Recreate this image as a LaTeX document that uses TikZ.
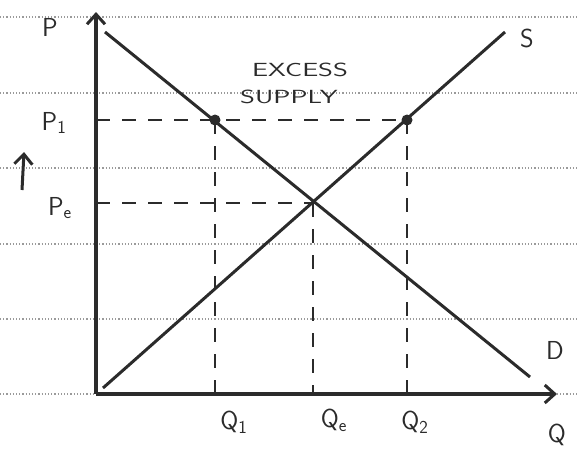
\documentclass[tikz,border=0pt]{standalone}
\usetikzlibrary{arrows.meta, positioning, calc}
\definecolor{pen}{HTML}{2B2B2B}
\definecolor{ruleline}{HTML}{9A9A9A}

\begin{document}
\begin{tikzpicture}[
    x=1pt, y=-1pt,
    axis/.style={line width=4pt, color=pen, -{Straight Barb[length=10pt, width=18pt, line width=3pt]}},
    curve/.style={line width=3pt, color=pen},
    guide/.style={line width=2.8pt, color=pen, dash pattern=on 14pt off 12pt},
    lbl/.style={font=\sffamily\fontsize{26}{28}\selectfont, text=pen, inner sep=0pt},
    note/.style={font=\sffamily\fontsize{19}{21}\selectfont, text=pen, inner sep=0pt},
    pt/.style={circle, fill=pen, inner sep=0pt, minimum size=11pt},
    ruled/.style={ruleline, line width=1.2pt, dotted}
]
\useasboundingbox (0,0) rectangle (579,448);

% ruled paper
\foreach \yy in {17,93,168,244,319,394}
  \draw[ruled] (0,\yy) -- (579,\yy);

\coordinate (O) at (96,394);
\coordinate (ytop) at (96,12);
\coordinate (xend) at (557,394);
\coordinate (d0) at (105,32);
\coordinate (d1) at (530,377);
\coordinate (s0) at (103,388);
\coordinate (s1) at (505,32);
\coordinate (E) at (313,203);
\coordinate (p1) at (96,120);
\coordinate (pe) at (96,203);
\coordinate (q1) at (215,394);
\coordinate (qe) at (313,394);
\coordinate (q2) at (407,394);
\coordinate (ar0) at (22,190);
\coordinate (ar1) at (24,152);

\node[pt] (A) at (215,120) {};
\node[pt] (B) at (407,120) {};

% guides
\draw[guide] (p1) -- (B.center);
\draw[guide] (pe) -- (E);
\draw[guide] (A.center) -- (q1);
\draw[guide] (E) -- (qe);
\draw[guide] (B.center) -- (q2);

% axes and curves
\draw[axis] (O) -- (ytop);
\draw[axis] (O) -- (xend);
\draw[curve] (d0) -- (d1);
\draw[curve] (s0) -- (s1);
\draw[axis, line width=3pt] (ar0) -- (ar1);

\node[lbl] (plab) at (50,27) {P};
\node[lbl] (p1lab) at (54,123) {P\textsubscript{1}};
\node[lbl] (pelab) at (60,208) {P\textsubscript{e}};
\node[lbl] (q1lab) at (234,422) {Q\textsubscript{1}};
\node[lbl] (qelab) at (334,420) {Q\textsubscript{e}};
\node[lbl] (q2lab) at (415,422) {Q\textsubscript{2}};
\node[lbl, anchor=south] (qlab) at (557,446) {Q};
\node[lbl] (slab) at (527,38) {S};
\node[lbl] (dlab) at (555,350) {D};
\node[note] (excess) at (300,70) {\scalebox{1.5}[1]{EXCESS}};
\node[note] (supply) at (289,97) {\scalebox{1.5}[1]{SUPPLY}};

\end{tikzpicture}
\end{document}
